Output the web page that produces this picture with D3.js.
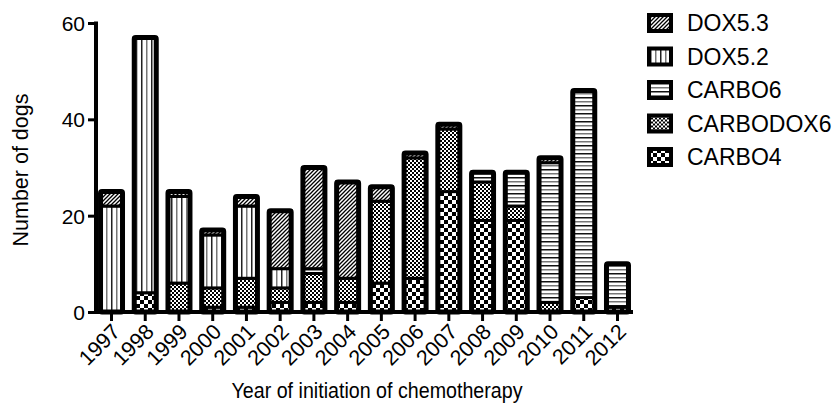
<!DOCTYPE html>
<html>
<head>
<meta charset="utf-8">
<script src="https://cdn.jsdelivr.net/npm/d3@7"></script>
<style>
  html, body { margin: 0; padding: 0; background: #fff; }
  svg { display: block; font-family: "Liberation Sans", Arial, sans-serif; }
</style>
</head>
<body>
<svg id="chart" width="837" height="404"></svg>
<script>
const years = ["1997","1998","1999","2000","2001","2002","2003","2004","2005","2006","2007","2008","2009","2010","2011","2012"];
const carbo4    = [0, 4, 0, 1, 1, 2, 2, 2, 6, 7, 25, 19, 19, 0, 3, 1];
const carbodox6 = [0, 0, 6, 4, 6, 3, 6, 5, 17, 25, 13, 8, 3, 2, 0, 0];
const carbo6    = [0, 0, 0, 0, 0, 0, 1, 0, 0, 0, 0, 2, 7, 29, 43, 9];
const dox52     = [22, 53, 18, 11, 15, 4, 0, 0, 0, 0, 0, 0, 0, 0, 0, 0];
const dox53     = [3, 0, 1, 1, 2, 12, 21, 20, 3, 1, 1, 0, 0, 1, 0, 0];
const seriesNames = ["CARBO4", "CARBODOX6", "CARBO6", "DOX5.2", "DOX5.3"];
const yTicks = [0, 20, 40, 60];

const seriesArrays = [carbo4, carbodox6, carbo6, dox52, dox53];
const rows = years.map((y, i) => {
  const r = { year: y };
  seriesNames.forEach((k, j) => r[k] = seriesArrays[j][i]);
  return r;
});

const svg = d3.select("#chart");
const defs = svg.append("defs");
const patId = { "CARBO4": "p-c4", "CARBODOX6": "p-cd6", "CARBO6": "p-c6", "DOX5.2": "p-d52", "DOX5.3": "p-d53" };

// DOX5.3 diagonal hatch
let p = defs.append("pattern").attr("id", "p-d53").attr("patternUnits", "userSpaceOnUse").attr("width", 4).attr("height", 4);
p.append("rect").attr("width", 4).attr("height", 4).attr("fill", "#fff");
p.append("path").attr("d", "M-1,1 L1,-1 M0,4 L4,0 M3,5 L5,3").attr("stroke", "#000").attr("stroke-width", 1.3);
// DOX5.2 vertical lines
p = defs.append("pattern").attr("id", "p-d52").attr("patternUnits", "userSpaceOnUse").attr("width", 10).attr("height", 10);
p.append("rect").attr("width", 10).attr("height", 10).attr("fill", "#fff");
p.append("rect").attr("x", 1).attr("width", 1.5).attr("height", 10).attr("fill", "#222");
p.append("rect").attr("x", 6).attr("width", 1.5).attr("height", 10).attr("fill", "#777");
// CARBO6 horizontal lines
p = defs.append("pattern").attr("id", "p-c6").attr("patternUnits", "userSpaceOnUse").attr("width", 8).attr("height", 8);
p.append("rect").attr("width", 8).attr("height", 8).attr("fill", "#fff");
p.append("rect").attr("y", 1).attr("width", 8).attr("height", 1.5).attr("fill", "#111");
p.append("rect").attr("y", 5).attr("width", 8).attr("height", 1.5).attr("fill", "#777");
// CARBODOX6 fine checker
p = defs.append("pattern").attr("id", "p-cd6").attr("patternUnits", "userSpaceOnUse").attr("width", 4).attr("height", 4);
p.append("rect").attr("width", 4).attr("height", 4).attr("fill", "#fff");
p.append("rect").attr("width", 2).attr("height", 2).attr("fill", "#000");
p.append("rect").attr("x", 2).attr("y", 2).attr("width", 2).attr("height", 2).attr("fill", "#000");
// CARBO4 big checker
p = defs.append("pattern").attr("id", "p-c4").attr("patternUnits", "userSpaceOnUse").attr("width", 8).attr("height", 8);
p.append("rect").attr("width", 8).attr("height", 8).attr("fill", "#fff");
p.append("rect").attr("width", 4).attr("height", 4).attr("fill", "#000");
p.append("rect").attr("x", 4).attr("y", 4).attr("width", 4).attr("height", 4).attr("fill", "#000");

const x = d3.scaleBand().domain(years).range([96, 633]).paddingInner(0.348).paddingOuter(0.134);
const y = d3.scaleLinear().domain([0, 60]).range([312, 23]);

const stack = d3.stack().keys(seriesNames)(rows);

// segments
stack.forEach(s => {
  svg.append("g").selectAll("rect")
    .data(s.filter(d => d[1] - d[0] > 0))
    .join("rect")
    .attr("x", d => x(d.data.year))
    .attr("width", x.bandwidth())
    .attr("y", d => y(d[1]))
    .attr("height", d => y(d[0]) - y(d[1]))
    .attr("fill", `url(#${patId[s.key]})`)
    .attr("stroke", "#000")
    .attr("stroke-width", 3);
});
// outer outline
const totals = rows.map(r => seriesNames.reduce((a, k) => a + r[k], 0));
svg.append("g").selectAll("rect")
  .data(years)
  .join("rect")
  .attr("x", d => x(d))
  .attr("width", x.bandwidth())
  .attr("y", (d, i) => y(totals[i]))
  .attr("height", (d, i) => y(0) - y(totals[i]))
  .attr("rx", 1.5)
  .attr("fill", "none")
  .attr("stroke", "#000")
  .attr("stroke-width", 5);

// axes
const yAxis = svg.append("g").attr("transform", "translate(96,0)")
  .call(d3.axisLeft(y).tickValues(yTicks).tickSize(8).tickPadding(3).tickFormat(d3.format("d")));
yAxis.select(".domain").attr("stroke-width", 4).attr("d", `M0,${y(0) + 2}V${y(60) - 1.5}`);
yAxis.selectAll(".tick line").attr("stroke-width", 3);
yAxis.selectAll(".tick text").attr("font-size", 21).attr("font-family", "Liberation Sans, Arial, sans-serif").attr("fill", "#000").attr("dy", "0.36em");

const xAxis = svg.append("g").attr("transform", `translate(0,${y(0)})`)
  .call(d3.axisBottom(x).tickSize(9).tickSizeOuter(0));
xAxis.select(".domain").attr("stroke-width", 4).attr("d", "M94,0H633");
xAxis.selectAll(".tick line").attr("stroke-width", 3);
xAxis.selectAll(".tick text")
  .attr("font-size", 21.5).attr("font-family", "Liberation Sans, Arial, sans-serif").attr("fill", "#000")
  .attr("text-anchor", "end")
  .attr("dy", null)
  .attr("y", 0)
  .attr("transform", "translate(10,21) rotate(-45)");

// axis titles
svg.append("text").attr("x", 377).attr("y", 398).attr("text-anchor", "middle")
  .attr("font-size", 22.5).attr("textLength", 291).attr("lengthAdjust", "spacingAndGlyphs")
  .text("Year of initiation of chemotherapy");
svg.append("text").attr("transform", "translate(28,170) rotate(-90)").attr("text-anchor", "middle")
  .attr("font-size", 21.5).text("Number of dogs");

// legend
const legendOrder = seriesNames.slice().reverse();
const lg = svg.append("g").selectAll("g").data(legendOrder).join("g")
  .attr("transform", (d, i) => `translate(649,${15 + i * 33.5})`);
lg.append("rect").attr("width", 22).attr("height", 16)
  .attr("fill", d => `url(#${patId[d]})`).attr("stroke", "#000").attr("stroke-width", 4);
lg.append("text").attr("x", 38).attr("y", 16).attr("font-size", 23).text(d => d);
</script>
</body>
</html>
